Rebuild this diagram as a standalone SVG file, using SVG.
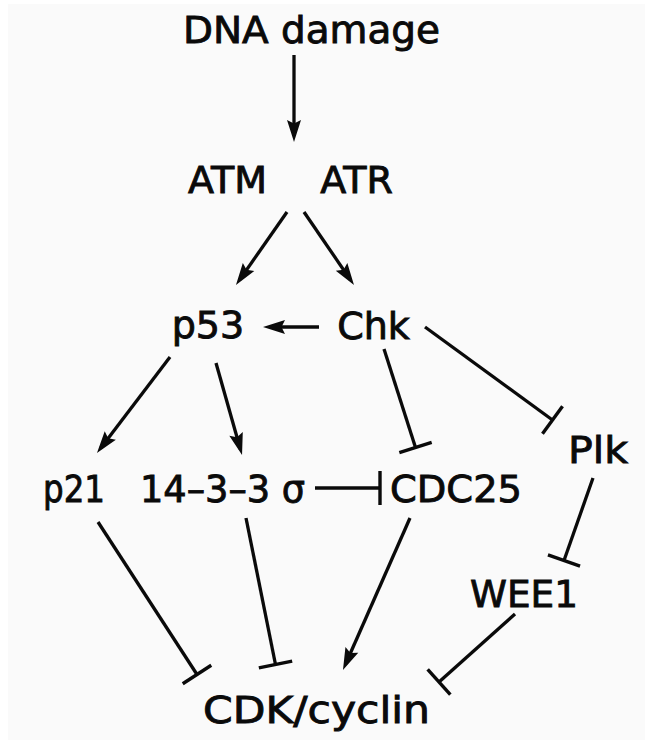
<svg xmlns="http://www.w3.org/2000/svg" width="645" height="740" viewBox="0 0 645 740">
<style>
  text { font-family: "DejaVu Sans", "Liberation Sans", sans-serif; font-size: 38px; fill: #0a0a0a; stroke: #0a0a0a; stroke-width: 0.9px; text-anchor: middle; }
  .e { stroke: #0a0a0a; stroke-width: 3.3; fill: none; }
  .act { marker-end: url(#arr); }
  .inh { marker-end: url(#bar); }
</style>
<defs>
  <marker id="arr" markerUnits="userSpaceOnUse" viewBox="0 0 24 16" markerWidth="24" markerHeight="16" refX="16" refY="8" orient="auto" overflow="visible">
    <path d="M0,1 L22,8 L0,15 L3.5,8 z" fill="#0a0a0a"/>
  </marker>
  <marker id="bar" markerUnits="userSpaceOnUse" viewBox="-3 -18 6 36" markerWidth="6" markerHeight="36" refX="0" refY="0" orient="auto" overflow="visible">
    <path d="M0,-17 L0,17" stroke="#0a0a0a" stroke-width="3.4" fill="none"/>
  </marker>
</defs>
<rect x="0" y="0" width="645" height="740" fill="#ffffff"/>
<rect x="8" y="4" width="637" height="736" fill="#fafafa"/>

<g id="connectors">
  <line class="e act" x1="294" y1="55" x2="294" y2="136"/>
  <line class="e act" x1="287" y1="212" x2="239.4" y2="280.1"/>
  <line class="e act" x1="304" y1="212" x2="350.6" y2="280.1"/>
  <line class="e act" x1="319" y1="327" x2="269" y2="327"/>
  <line class="e act" x1="170" y1="357" x2="100.6" y2="448.2"/>
  <line class="e act" x1="216" y1="363" x2="240.4" y2="449.2"/>
  <line class="e inh" x1="384" y1="349" x2="415.5" y2="447.5"/>
  <line class="e inh" x1="425" y1="327" x2="552.5" y2="420"/>
  <line class="e inh" x1="315" y1="488" x2="380" y2="488"/>
  <line class="e inh" x1="593" y1="478" x2="564" y2="560.5"/>
  <line class="e inh" x1="98" y1="522" x2="197" y2="674.5"/>
  <line class="e inh" x1="246" y1="518" x2="275.5" y2="664.5"/>
  <line class="e act" x1="410" y1="518" x2="345.4" y2="664.5"/>
  <line class="e inh" x1="515" y1="614" x2="439" y2="682"/>
</g>

<g id="dna_damage"><text x="311.5" y="43" textLength="257" lengthAdjust="spacingAndGlyphs">DNA damage</text></g>
<g id="atm"><text x="227.5" y="193">ATM</text></g>
<g id="atr"><text x="356.5" y="193">ATR</text></g>
<g id="p53"><text x="208" y="338">p53</text></g>
<g id="chk"><text x="373.5" y="339">Chk</text></g>
<g id="p21"><text x="74" y="502" textLength="62" lengthAdjust="spacingAndGlyphs">p21</text></g>
<g id="sigma"><text x="222.5" y="502" textLength="165" lengthAdjust="spacingAndGlyphs">14–3–3 σ</text></g>
<g id="cdc25"><text x="456" y="502" textLength="132" lengthAdjust="spacingAndGlyphs">CDC25</text></g>
<g id="plk"><text x="598" y="463" textLength="60" lengthAdjust="spacingAndGlyphs">Plk</text></g>
<g id="wee1"><text x="524" y="607" textLength="108" lengthAdjust="spacingAndGlyphs">WEE1</text></g>
<g id="cdk_cyclin"><text x="316.5" y="723" textLength="227" lengthAdjust="spacingAndGlyphs">CDK/cyclin</text></g>
</svg>
